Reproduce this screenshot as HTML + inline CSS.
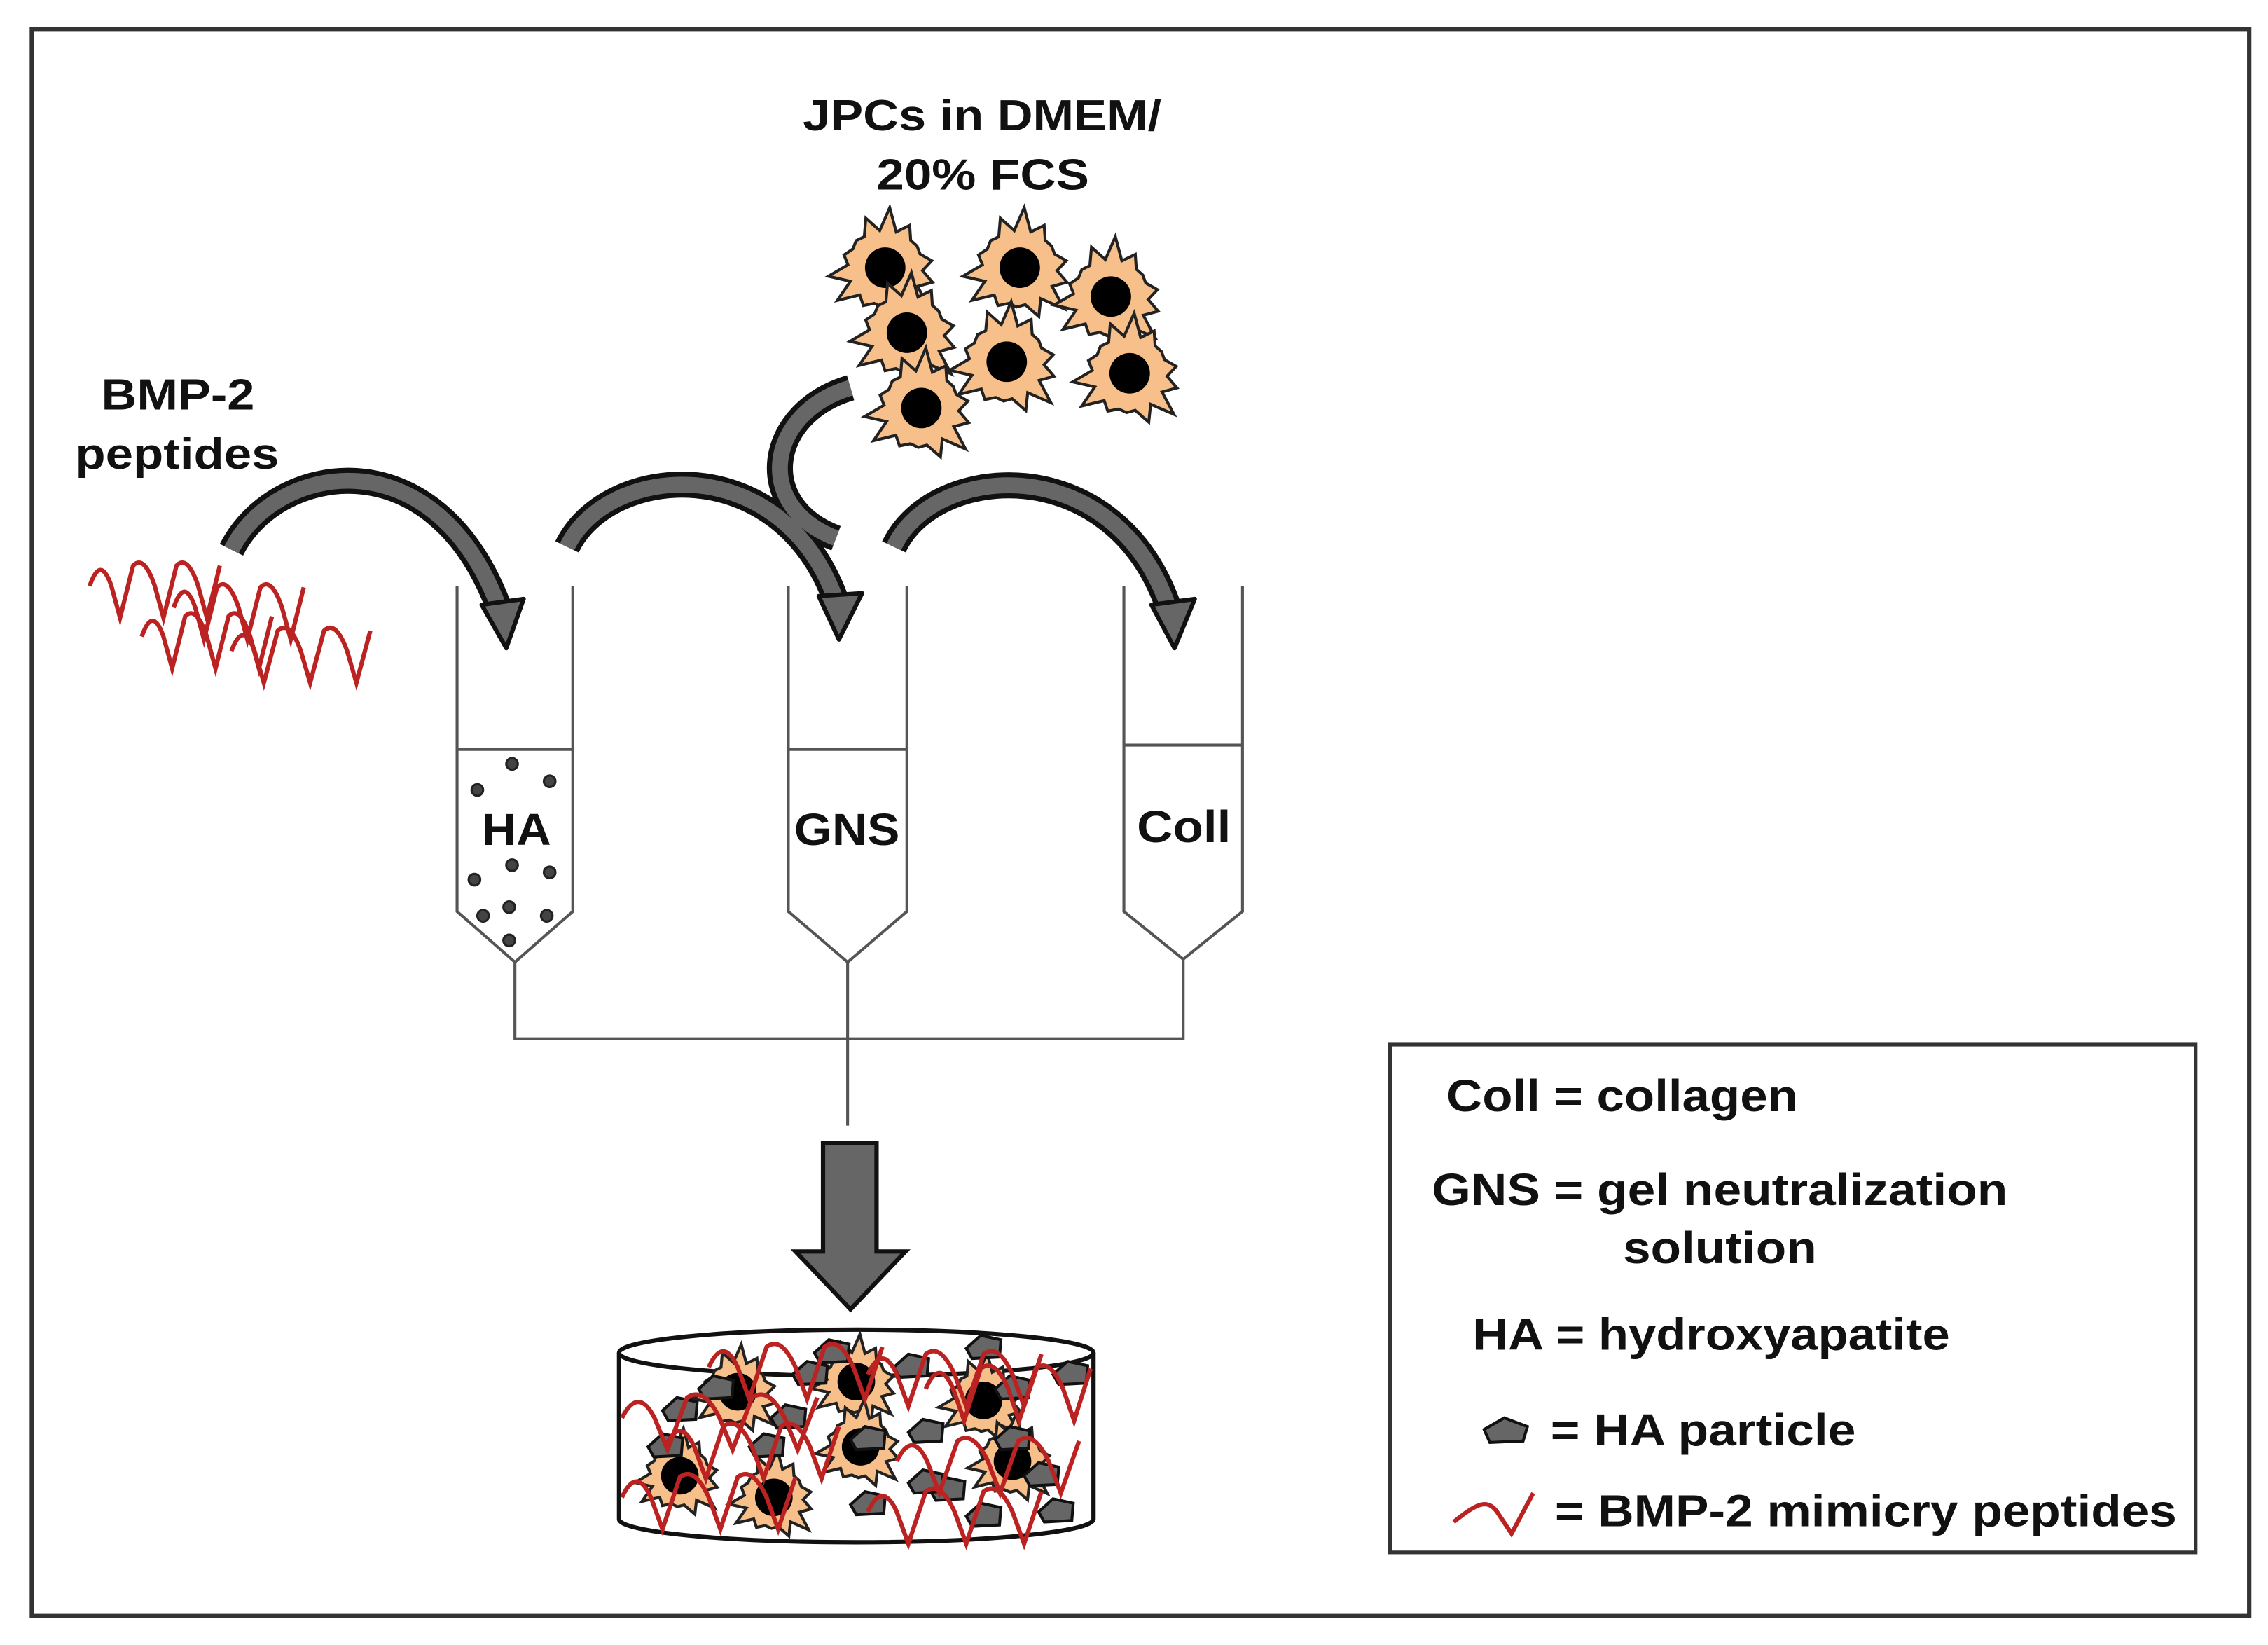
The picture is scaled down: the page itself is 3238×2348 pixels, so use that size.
<!DOCTYPE html>
<html><head><style>html,body{margin:0;padding:0;background:#fff}svg{display:block}
text{font-family:"Liberation Sans",Arial,sans-serif;font-weight:bold;fill:#111}</style></head>
<body>
<svg id="s" width="3238" height="2348" viewBox="0 0 1568 1137" preserveAspectRatio="none" xmlns="http://www.w3.org/2000/svg">
<rect x="0" y="0" width="1568" height="1137" fill="#fff"/>
<rect x="22" y="20" width="1533" height="1097" fill="none" stroke="#333" stroke-width="3"/>
<text x="555" y="90" font-size="30" textLength="248" lengthAdjust="spacingAndGlyphs">JPCs in DMEM/</text>
<text x="606" y="131" font-size="30" textLength="147" lengthAdjust="spacingAndGlyphs">20% FCS</text>
<text x="70" y="283" font-size="30" textLength="106" lengthAdjust="spacingAndGlyphs">BMP-2</text>
<text x="52" y="324" font-size="30" textLength="141" lengthAdjust="spacingAndGlyphs">peptides</text>
<g id="cells"></g>
<g id="waves" fill="none" stroke="#b22" stroke-width="3"></g>
<g fill="none" stroke="#555" stroke-width="2">
<path d="M316 405 V630 L356 665 L396 630 V405 M316 518 H396"/>
<path d="M545 405 V630 L586 665 L627 630 V405 M545 518 H627"/>
<path d="M777 405 V630 L818 663 L859 630 V405 M777 515 H859"/>
<path d="M356 665 V718 H818 V663 M586 665 V778"/>
</g>
<g fill="#444" stroke="#222" stroke-width="1.5">
<circle cx="330" cy="546" r="4"/><circle cx="354" cy="528" r="4"/><circle cx="380" cy="540" r="4"/>
<circle cx="328" cy="608" r="4"/><circle cx="354" cy="598" r="4"/><circle cx="380" cy="603" r="4"/>
<circle cx="334" cy="633" r="4"/><circle cx="352" cy="627" r="4"/><circle cx="378" cy="633" r="4"/><circle cx="352" cy="650" r="4"/>
</g>
<text x="333" y="584" font-size="31" textLength="48" lengthAdjust="spacingAndGlyphs">HA</text>
<text x="549" y="584" font-size="31" textLength="73" lengthAdjust="spacingAndGlyphs">GNS</text>
<text x="786" y="582" font-size="31" textLength="65" lengthAdjust="spacingAndGlyphs">Coll</text>
<g fill="none" stroke-linecap="butt">
<g stroke="#111" stroke-width="18">
<path d="M160 380 C190 320 300 300 345 420"/>
<path d="M392 378 C420 320 540 310 578 415"/>
<path d="M618 378 C645 320 770 310 808 420"/>
<path d="M588 268 C530 285 520 350 578 372"/>
</g>
<g stroke="#666" stroke-width="11">
<path d="M160 380 C190 320 300 300 345 420"/>
<path d="M392 378 C420 320 540 310 578 415"/>
<path d="M618 378 C645 320 770 310 808 420"/>
<path d="M588 268 C530 285 520 350 578 372"/>
</g>
</g>
<g fill="#666" stroke="#111" stroke-width="3" stroke-linejoin="round">
<polygon points="333,418 362,414 350,448"/>
<polygon points="566,412 596,410 580,442"/>
<polygon points="796,418 826,414 812,448"/>
</g>
<polygon points="569,790 606,790 606,865 626,865 588,905 550,865 569,865" fill="#666" stroke="#111" stroke-width="3"/>
<g id="cyl"></g>
<rect x="961" y="722" width="557" height="351" fill="none" stroke="#333" stroke-width="2.5"/>
<text x="1000" y="768" font-size="31" textLength="243" lengthAdjust="spacingAndGlyphs">Coll = collagen</text>
<text x="990" y="833" font-size="31" textLength="398" lengthAdjust="spacingAndGlyphs">GNS = gel neutralization</text>
<text x="1122" y="873" font-size="31" textLength="134" lengthAdjust="spacingAndGlyphs">solution</text>
<text x="1018" y="933" font-size="31" textLength="330" lengthAdjust="spacingAndGlyphs">HA = hydroxyapatite</text>
<polygon points="1026,988 1040,980 1056,986 1053,996 1030,997" fill="#666" stroke="#111" stroke-width="2"/>
<text x="1072" y="999" font-size="31" textLength="211" lengthAdjust="spacingAndGlyphs">= HA particle</text>
<path d="M1005 1052 C1020 1040 1028 1035 1035 1045 L1045 1060 L1060 1032" fill="none" stroke="#b22" stroke-width="3"/>
<text x="1075" y="1055" font-size="31" textLength="430" lengthAdjust="spacingAndGlyphs">= BMP-2 mimicry peptides</text>
</svg>
<script>
var NS="http://www.w3.org/2000/svg";
function el(p,t,a){var e=document.createElementNS(NS,t);for(var k in a)e.setAttribute(k,a[k]);p.appendChild(e);return e;}
function star(p,cx,cy,r,nr){var pts=[];for(var i=0;i<28;i++){var a=i*Math.PI/14+0.3;var rr=i%2?r*0.68:r*(0.9+0.2*Math.sin(i*7));pts.push((cx+rr*Math.cos(a)).toFixed(1)+","+(cy+rr*Math.sin(a)).toFixed(1));}
el(p,"polygon",{points:pts.join(" "),fill:"#f7c08a",stroke:"#222","stroke-width":2});el(p,"circle",{cx:cx,cy:cy,r:nr,fill:"#000"});}
var c=document.getElementById("cells");
[[612,185],[705,185],[768,205],[627,230],[696,250],[781,258],[637,282]].forEach(function(q){star(c,q[0],q[1],38,14);});
function wave(p,x,y,w,col){var d="M"+x+" "+y;for(var i=0;i<3;i++){var b=x+i*w;d+=" Q"+(b+w*0.25)+" "+(y-22)+" "+(b+w*0.5)+" "+y+" L"+(b+w*0.7)+" "+(y+22)+" L"+(b+w)+" "+(y-14);}el(p,"path",{d:d,fill:"none",stroke:col||"#b22","stroke-width":3});}
var w=document.getElementById("waves");
wave(w,62,405,30);wave(w,120,420,30);wave(w,98,440,30);wave(w,160,450,32);
var cy=document.getElementById("cyl");
el(cy,"path",{d:"M428 935 V1050 A164 16 0 0 0 756 1050 V935",fill:"#fff",stroke:"#111","stroke-width":3});
el(cy,"ellipse",{cx:592,cy:935,rx:164,ry:16,fill:"#fff",stroke:"#111","stroke-width":3});
[[510,962],[592,955],[680,968],[470,1020],[535,1035],[595,1000],[700,1010]].forEach(function(q){star(cy,q[0],q[1],30,13);});
function hexa(p,x,y){el(p,"polygon",{points:[x-12,y,x-2,y-9,x+12,y-6,x+11,y+6,x-8,y+7].join(" "),fill:"#666",stroke:"#111","stroke-width":2});}
[[495,960],[575,935],[630,945],[680,932],[740,950],[545,980],[600,995],[640,990],[700,995],[460,1000],[655,1030],[720,1020],[730,1045],[640,1025],[600,1040],[680,1048],[530,1000],[470,975],[560,950],[700,960]].forEach(function(q){hexa(cy,q[0],q[1]);});
wave(cy,430,980,45);wave(cy,460,1000,40);wave(cy,600,950,40);wave(cy,640,960,38);wave(cy,430,1035,40);wave(cy,600,1045,40);wave(cy,620,1010,42);wave(cy,490,945,40);
</script>
</body></html>
